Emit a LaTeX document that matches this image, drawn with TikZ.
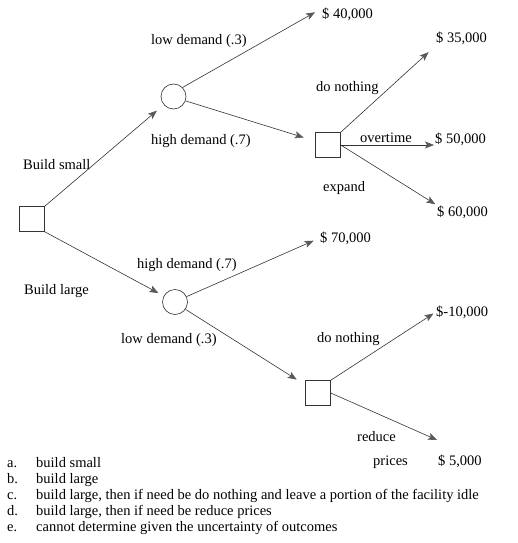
\documentclass[tikz,border=0pt]{standalone}
\usepackage{fontspec}
\setmainfont{Liberation Serif}
\usetikzlibrary{arrows.meta, positioning}

\begin{document}
\begin{tikzpicture}[x=1pt, y=-1pt,
    font=\fontsize{14.5}{16}\selectfont,
    decision/.style={draw=black!80, line width=0.6pt, minimum size=25pt, inner sep=0pt},
    chance/.style={draw=black!80, line width=0.6pt, circle, minimum size=25pt, inner sep=0pt},
    branch/.style={draw=black!80, line width=0.6pt, -{Stealth[length=9pt, width=7pt, inset=2pt, color=black!65]}},
    lbl/.style={anchor=base west, inner sep=0pt}]
  \useasboundingbox (0,0) rectangle (517,543);
  % Decision and chance nodes
  \node[decision] (root) at (32,219) {};
  \node[chance] (small) at (173.5,96.5) {};
  \node[decision] (smalldec) at (328,145) {};
  \node[chance] (large) at (175,302) {};
  \node[decision] (largedec) at (318,393) {};
  % Payoffs
  \node[lbl] (p40) at (322,19) {\$ 40,000};
  \node[lbl] (p35) at (436,43) {\$ 35,000};
  \node[lbl] (p50) at (435,143) {\$ 50,000};
  \node[lbl] (p60) at (437,216) {\$ 60,000};
  \node[lbl] (p70) at (320,242) {\$ 70,000};
  \node[lbl] (pneg) at (436,316) {\$-10,000};
  \node[lbl] (p5) at (438,465) {\$ 5,000};
  \coordinate (reducetip) at (437,440);
  % Branch labels
  \node[lbl] (bsmall) at (23,169) {Build small};
  \node[lbl] (blarge) at (24,294) {Build large};
  \node[lbl] (slow) at (151,45) {low demand (.3)};
  \node[lbl] (shigh) at (151,144) {high demand (.7)};
  \node[lbl] (snothing) at (316,92) {do nothing};
  \node[lbl] (sover) at (360,142) {overtime};
  \node[lbl] (sexpand) at (323,191) {expand};
  \node[lbl] (lhigh) at (137,268) {high demand (.7)};
  \node[lbl] (llow) at (121,343) {low demand (.3)};
  \node[lbl] (lnothing) at (317,342) {do nothing};
  \node[lbl] (lreduce) at (357,441) {reduce};
  \node[lbl] (lprices) at (373,465) {prices};
  % Branches
  \draw[branch, shorten >=9pt] (root.north east) -- (small);
  \draw[branch, shorten >=6pt] (root.south east) -- (large);
  \draw[branch, shorten >=8pt] (small.north east) -- (p40.north west);
  \draw[branch, shorten >=12pt] (small.-20) -- (smalldec);
  \draw[branch, shorten >=10pt] (smalldec.north east) -- (p35.south west);
  \draw[branch, shorten >=1pt] (smalldec.east) -- (smalldec.east -| p50.west);
  \draw[branch, shorten >=2pt] (smalldec.east) -- (p60.north west);
  \draw[branch, shorten >=7pt] (large.25) -- (p70.west);
  \draw[branch, shorten >=10pt] (large.-35) -- (largedec);
  \draw[branch, shorten >=3pt] (largedec.north east) -- (pneg.west);
  \draw[branch] (largedec.east) -- (reducetip);
  % Answer choices
  \foreach \l/\t [count=\i] in {a./{build small}, b./{build large},
      c./{build large, then if need be do nothing and leave a portion of the facility idle},
      d./{build large, then if need be reduce prices},
      e./{cannot determine given the uncertainty of outcomes}} {
    \node[lbl] (key\i) at (7,451+16*\i) {\l};
    \node[lbl] (opt\i) at (36,451+16*\i) {\t};
  }
\end{tikzpicture}
\end{document}
